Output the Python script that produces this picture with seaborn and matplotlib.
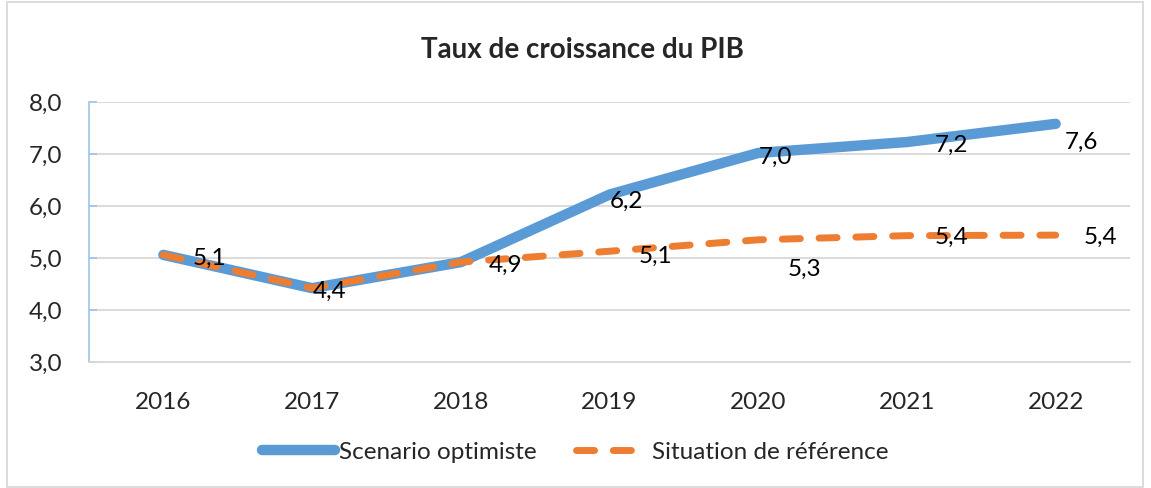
import pandas as pd
import matplotlib.pyplot as plt
import seaborn as sns
from matplotlib.patches import Rectangle

# data
years = ['2016', '2017', '2018', '2019', '2020', '2021', '2022']
optimiste = [5.06, 4.42, 4.92, 6.22, 7.02, 7.23, 7.58]
reference = [5.06, 4.42, 4.92, 5.13, 5.35, 5.43, 5.44]
optimiste_labels = ['5,1', '4,4', '4,9', '6,2', '7,0', '7,2', '7,6']
reference_labels = ['5,1', '4,4', '4,9', '5,1', '5,3', '5,4', '5,4']

df = pd.DataFrame({'annee': years, 'opt': optimiste, 'ref': reference})

sns.set_style('white')
plt.rcParams['font.family'] = ['Lato', 'DejaVu Sans']
fs = 17.5

fig = plt.figure(figsize=(11.51, 4.88), dpi=100)
ax = fig.add_axes([89 / 1151, 1 - 362 / 488, (1130 - 89) / 1151, 260 / 488])

blue = '#5B9BD5'
orange = '#ED7D31'

sns.lineplot(data=df, x='annee', y='opt', ax=ax, color=blue, linewidth=7.5,
             solid_capstyle='round', label='Scenario optimiste', sort=False)
sns.lineplot(data=df, x='annee', y='ref', ax=ax, color=orange, linewidth=5,
             linestyle=(0, (2.6, 2.7)), dash_capstyle='round',
             label='Situation de référence', sort=False)

# data labels (offsets in pixels, right of the points like Excel)
opt_off = [(46, -3), (17, -3), (45, -3), (17, -7), (17, -4), (45, -3), (26, -19)]
ref_off = [(46, -3), (17, -3), (45, -3), (46, -5), (46, -30), (45, -2), (45, -2)]
for i, (v, lab) in enumerate(zip(optimiste, optimiste_labels)):
    ax.annotate(lab, (i, v), xytext=opt_off[i], textcoords='offset pixels',
                ha='center', va='center', fontsize=fs, color='black')
for i, (v, lab) in enumerate(zip(reference, reference_labels)):
    if i < 3:
        continue  # same label already drawn by the first series
    ax.annotate(lab, (i, v), xytext=ref_off[i], textcoords='offset pixels',
                ha='center', va='center', fontsize=fs, color='black')

ax.set_xlim(-0.5, 6.5)
ax.set_ylim(3, 8)
ax.set_yticks([3, 4, 5, 6, 7, 8])
ax.set_yticklabels([f'{t:.1f}'.replace('.', ',') for t in [3, 4, 5, 6, 7, 8]])
ax.set_xlabel('')
ax.set_ylabel('')
ax.grid(axis='y', color='#D9D9D9', linewidth=1.3)
ax.set_axisbelow(True)
for s in ['top', 'right']:
    ax.spines[s].set_visible(False)
ax.spines['left'].set_color('#9DC3E6')
ax.spines['left'].set_linewidth(1.2)
ax.spines['bottom'].set_color('#D9D9D9')
ax.spines['bottom'].set_linewidth(1.3)
ax.tick_params(axis='y', direction='in', length=6, color='#9DC3E6', width=1.2,
               left=True, labelsize=fs, pad=19)
ax.tick_params(axis='x', bottom=False, labelsize=fs, pad=18)

ax.get_legend().remove()
h, l = ax.get_legend_handles_labels()
fig.legend(h, l, loc='center', bbox_to_anchor=(0.5, 1 - 452 / 488), ncol=2,
           frameon=False, fontsize=fs, handlelength=3.0, handletextpad=0.15,
           columnspacing=1.6)

fig.text(0.506, 1 - 50 / 488, 'Taux de croissance du PIB', ha='center',
         va='center', fontsize=20, fontweight='bold')

fig.patches.append(Rectangle((7 / 1151, 0.002), 1136 / 1151, 0.994,
                             transform=fig.transFigure, fill=False,
                             edgecolor='#D9D9D9', linewidth=1.3))

fig.savefig('out.png', dpi=100)
